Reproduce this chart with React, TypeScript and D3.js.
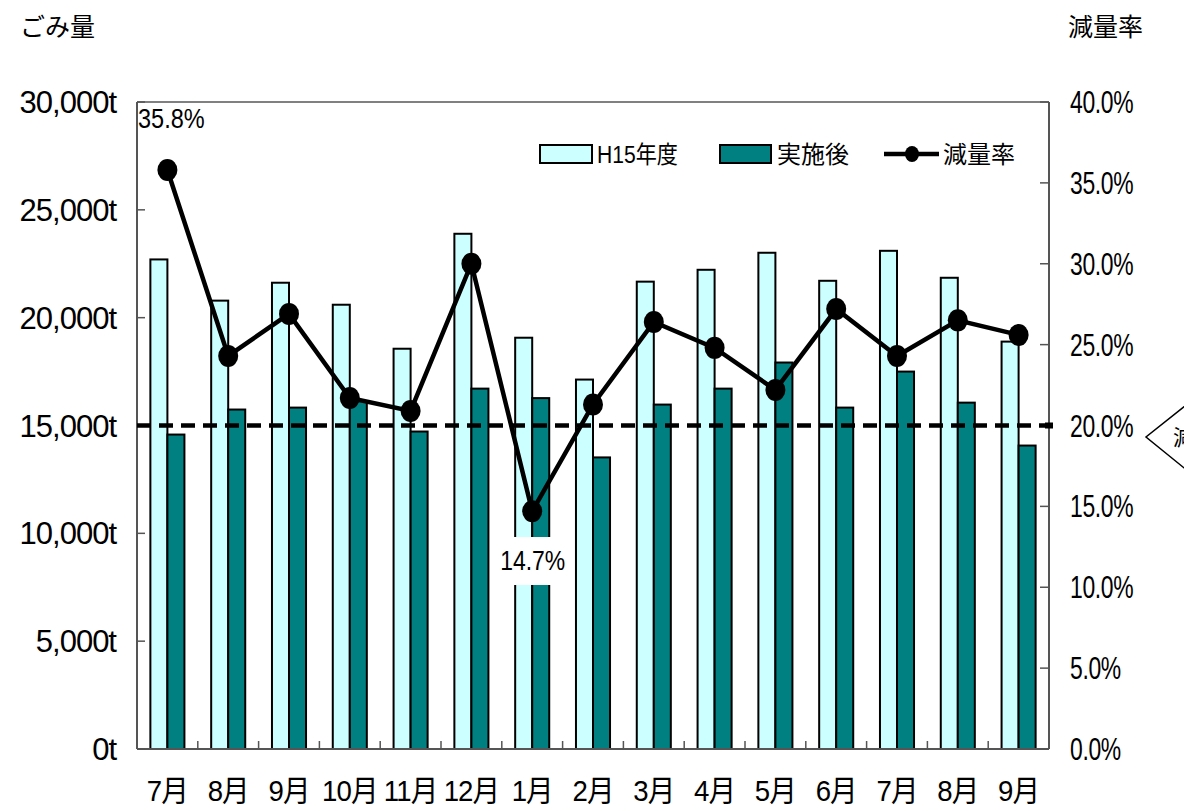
import React, { useEffect } from 'react';
import * as d3 from 'd3';

// months shown on the category axis (Jul 2004 – Sep 2005)
const MONTHS = ['7月', '8月', '9月', '10月', '11月', '12月', '1月', '2月', '3月', '4月', '5月', '6月', '7月', '8月', '9月'];

// H15 (FY2003) garbage volume, tonnes
const BEFORE = [22700, 20790, 21620, 20600, 18560, 23890, 19070, 17130, 21670, 22220, 23010, 21710, 23100, 21850, 18890];
// after implementation, tonnes
const AFTER = [14580, 15740, 15830, 16130, 14720, 16710, 16270, 13520, 15970, 16710, 17920, 15830, 17500, 16060, 14070];
// reduction rate, %
const RATE = [35.8, 24.3, 26.9, 21.7, 20.9, 30.0, 14.7, 21.3, 26.4, 24.8, 22.2, 27.2, 24.3, 26.5, 25.6];

const LEFT_TICKS = [0, 5000, 10000, 15000, 20000, 25000, 30000];
const RIGHT_TICKS = [0, 5, 10, 15, 20, 25, 30, 35, 40];
const TARGET_RATE = 20;

const LIGHT = '#CCFFFF';
const DARK = '#008080';
const REG = "'Liberation Sans', Arial, 'Noto Sans CJK JP', sans-serif";
const CJK = "'Noto Sans CJK JP', sans-serif";

export default function App() {
  useEffect(() => {
    document.body.style.margin = '0';
  }, []);

  const W = 1204;
  const H = 811;
  const left = 137;
  const right = 1049;
  const top = 102;
  const bottom = 749;

  const x = d3.scaleBand<number>().domain(d3.range(MONTHS.length)).range([left, right]).padding(0);
  const bw = x.bandwidth();
  const barW = bw * 0.28;
  const yL = d3.scaleLinear().domain([0, 30000]).range([bottom, top]);
  const yR = d3.scaleLinear().domain([0, 40]).range([bottom, top]);

  const cx = (i: number) => (x(i) as number) + bw / 2;
  const line = d3
    .line<number>()
    .x((_, i) => cx(i))
    .y((d) => yR(d));

  const fmtL = (v: number) => d3.format(',')(v) + 't';
  const fmtR = (v: number) => v.toFixed(1) + '%';

  const minIdx = d3.minIndex(RATE);
  const maxIdx = d3.maxIndex(RATE);

  return (
    <svg width={W} height={H} style={{ display: 'block', background: '#fff' }}>
      <defs>
        <clipPath id="cut">
          <rect x={0} y={0} width={1184} height={H} />
        </clipPath>
      </defs>

      {/* titles */}
      <text x={20} y={36} fontFamily={CJK} fontSize={25} fill="#000">ごみ量</text>
      <text x={1068} y={36} fontFamily={CJK} fontSize={25} fill="#000">減量率</text>

      {/* bars */}
      {MONTHS.map((_, i) => {
        const x0 = (x(i) as number) + (bw - barW * 2) / 2;
        return (
          <g key={i}>
            <rect x={x0} y={yL(BEFORE[i])} width={barW} height={bottom - yL(BEFORE[i])} fill={LIGHT} stroke="#000" strokeWidth={2} />
            <rect x={x0 + barW} y={yL(AFTER[i])} width={barW} height={bottom - yL(AFTER[i])} fill={DARK} stroke="#000" strokeWidth={2} />
          </g>
        );
      })}

      {/* frame */}
      <line x1={left} x2={right} y1={top} y2={top} stroke="#808080" strokeWidth={2} />
      <line x1={left} x2={left} y1={top} y2={bottom} stroke="#555" strokeWidth={2} />
      <line x1={right} x2={right} y1={top} y2={bottom} stroke="#555" strokeWidth={2} />
      <line x1={left} x2={right} y1={bottom} y2={bottom} stroke="#555" strokeWidth={2} />

      {/* left axis */}
      {LEFT_TICKS.map((t) => (
        <g key={t}>
          <line x1={left} x2={left + 8} y1={yL(t)} y2={yL(t)} stroke="#555" strokeWidth={1.5} />
          <text x={116} y={yL(t) + 11} textAnchor="end" fontFamily={REG} fontSize={31} letterSpacing={-1} fill="#000">
            {fmtL(t)}
          </text>
        </g>
      ))}

      {/* right axis */}
      {RIGHT_TICKS.map((t) => (
        <g key={t}>
          <line x1={right - 9} x2={right} y1={yR(t)} y2={yR(t)} stroke="#555" strokeWidth={1.5} />
          <text transform={`translate(1070,${yR(t) + 11}) scale(0.74,1)`} fontFamily={REG} fontSize={31} letterSpacing={-0.5} fill="#000">
            {fmtR(t)}
          </text>
        </g>
      ))}

      {/* category axis */}
      {MONTHS.map((m, i) => (
        <g key={i}>
          {i > 0 && <line x1={x(i)} x2={x(i)} y1={bottom} y2={bottom - 8} stroke="#555" strokeWidth={1.5} />}
          <text transform={`translate(${cx(i)},801) scale(0.92,1)`} textAnchor="middle" fontFamily={REG} fontSize={30} letterSpacing={-1} fill="#000">
            {m}
          </text>
        </g>
      ))}

      {/* target line */}
      <line x1={left} x2={right + 4} y1={yR(TARGET_RATE)} y2={yR(TARGET_RATE)} stroke="#000" strokeWidth={4.5} strokeDasharray="14 8" />
      <rect x={right - 4} y={yR(TARGET_RATE) - 3} width={8} height={6} fill="#000" />

      {/* rate line */}
      <path d={line(RATE) || ''} fill="none" stroke="#000" strokeWidth={4.5} />
      {RATE.map((r, i) => (
        <ellipse key={i} cx={cx(i)} cy={yR(r)} rx={10} ry={11} fill="#000" />
      ))}

      {/* data labels */}
      <text transform={`translate(${left + 1},128) scale(0.84,1)`} fontFamily={REG} fontSize={28} fill="#000">{fmtR(RATE[maxIdx])}</text>
      <rect x={cx(minIdx) - 40} y={537} width={66} height={48} fill="#fff" />
      <text transform={`translate(${cx(minIdx) - 32},570) scale(0.82,1)`} fontFamily={REG} fontSize={28} fill="#000">{fmtR(RATE[minIdx])}</text>

      {/* legend */}
      <rect x={540} y={145} width={52} height={18} fill={LIGHT} stroke="#000" strokeWidth={2} />
      <text transform="translate(597,163) scale(0.88,1)" fontFamily={REG} fontSize={24} fill="#000">H15年度</text>
      <rect x={720} y={145} width={51} height={18} fill={DARK} stroke="#000" strokeWidth={2} />
      <text x={777} y={163} fontFamily={CJK} fontSize={24} fill="#000">実施後</text>
      <line x1={884} x2={939} y1={154} y2={154} stroke="#000" strokeWidth={4.5} />
      <ellipse cx={912} cy={154} rx={7} ry={8} fill="#000" />
      <text x={943} y={163} fontFamily={CJK} fontSize={24} fill="#000">減量率</text>

      {/* callout cut off at the right edge */}
      <g clipPath="url(#cut)">
        <path d="M1210,386 L1146,437 L1210,489" fill="#fff" stroke="#000" strokeWidth={1.5} />
        <text x={1173} y={445} fontFamily={CJK} fontSize={22} fill="#000">減量目標</text>
      </g>
    </svg>
  );
}
